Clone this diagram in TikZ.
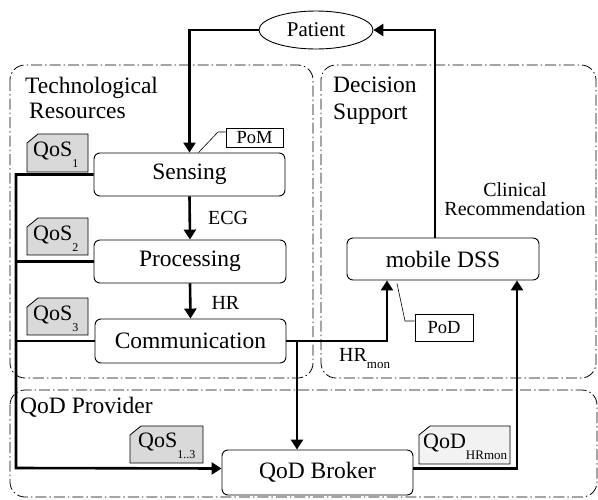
\documentclass[tikz,border=0pt]{standalone}
\usepackage{fontspec}
\setmainfont{Liberation Serif}
\usetikzlibrary{arrows.meta,shapes.geometric}
\newcommand\fsz[1]{\fontsize{#1}{#1}\selectfont}
\newcommand\qtag[5]{% left, top, right, bottom, fill
  \draw[tagline, fill=#5] (#1,#4) -- (#1,#2+9) -- (#1+11,#2) -- (#3,#2) -- (#3,#4) -- cycle;}
\begin{document}
\begin{tikzpicture}[x=1pt,y=-1pt,
  box/.style={draw, line width=0.9pt, rounded corners=6pt, inner sep=0pt, font=\fsz{23.5}},
  group/.style={draw, line width=0.8pt, rounded corners=15pt, dash pattern=on 11pt off 3pt on 1.5pt off 3pt},
  conn/.style={line width=2.6pt, -{Triangle[width=12pt,length=10pt]}},
  bus/.style={line width=2.6pt},
  note/.style={draw, line width=0.8pt, inner sep=0pt, font=\fsz{18.5}},
  tagline/.style={line width=0.8pt},
  title/.style={anchor=base west, inner sep=0pt, font=\fsz{23.5}, align=left},
  lbl/.style={anchor=base west, inner sep=0pt, font=\fsz{20}},
  tagtxt/.style={anchor=base west, inner sep=0pt, font=\fsz{22}}
]
\useasboundingbox (0,0) rectangle (598,499);

% groups
\draw[group] (10,65) rectangle (313,378);
\draw[group] (321,65) rectangle (596,378);
\draw[group] (10,390) rectangle (597,497);

\node[title] (ttech) at (25,93) {Technological};
\node[title] (tres) at (29,118) {Resources};
\node[title] (tdec) at (333,92) {Decision};
\node[title] (tsup) at (333,119) {Support};
\node[title] (tqod) at (20,413) {QoD Provider};

% main nodes
\node[draw, line width=0.9pt, ellipse, minimum width=114pt, minimum height=38pt, inner sep=0pt, font=\fsz{21}] (pat) at (316,30) {Patient};
\node[box, minimum width=191pt, minimum height=43pt] (sens) at (189.5,174.5) {\raisebox{-4pt}{Sensing}};
\node[box, minimum width=192pt, minimum height=43pt] (proc) at (190,261.5) {\raisebox{-3pt}{Processing}};
\node[box, minimum width=191pt, minimum height=44pt] (comm) at (190.5,341) {\raisebox{-4pt}{Communication}};
\node[box, minimum width=192pt, minimum height=42pt] (dss) at (443,259) {\raisebox{-4pt}{mobile DSS}};
\node[box, minimum width=191pt, minimum height=45pt] (broker) at (317.5,472.5) {QoD Broker};

% notes
\node[note, minimum width=57pt, minimum height=19pt] (pom) at (254.5,138) {PoM};
\draw[line width=0.6pt] ([xshift=9pt]sens.north) -- (218,132) -- ([yshift=6pt]pom.west);
\node[note, minimum width=58pt, minimum height=27pt] (pod) at (444,327.5) {PoD};
\draw[line width=0.6pt] ([xshift=-46pt,yshift=-3pt]dss.south) -- (405,321) -- ([yshift=6.5pt]pod.west);

% tags
\qtag{27}{134}{88}{172}{gray!30}
\node[tagtxt] (q1) at (33,156) {QoS\raisebox{-11pt}{\fsz{12}1}};
\qtag{27}{218}{88}{255}{gray!30}
\node[tagtxt] (q2) at (33,240) {QoS\raisebox{-11pt}{\fsz{12}2}};
\qtag{27}{298}{88}{335}{gray!30}
\node[tagtxt] (q3) at (33,320) {QoS\raisebox{-11pt}{\fsz{12}3}};
\qtag{130}{426}{203}{463}{gray!30}
\node[tagtxt] (q13) at (138,447) {QoS\raisebox{-11pt}{\fsz{12}1..3}};
\qtag{419}{426}{510}{464}{gray!10}
\node[tagtxt] (qd) at (423,448) {QoD\raisebox{-11pt}{\fsz{13}HRmon}};

% connectors
\draw[conn] (pat.west) -| (sens.north);
\draw[conn] ([xshift=-8pt]dss.north) |- (pat.east);
\draw[conn] (sens.south) -- (proc.north) node[lbl, pos=0.5, xshift=17pt, yshift=-6pt] (ecg) {ECG};
\draw[conn] (proc.south) -- (comm.north) node[lbl, pos=0.5, xshift=20pt, yshift=-8pt] (hr) {HR};

\coordinate (busbot) at (16,468);
\coordinate (split) at (297,341);
\draw[bus] (proc.west) -- (proc.west -| busbot);
\draw[bus] (comm.west) -- (comm.west -| busbot);
\draw[conn] (sens.west) -| (busbot) -- ([yshift=4pt]broker.west);
\draw[bus] (comm.east) -- (split);
\draw[conn] (split) -- (split |- broker.north);
\draw[conn] (split) -| ([xshift=-56pt]dss.south);
\draw[conn] ([yshift=4pt]broker.east) -| ([xshift=74pt]dss.south);

% labels
\node[font=\fsz{20}, align=center, inner sep=0pt] (clin) at (515,199) {Clinical\\[-1pt]Recommendation};
\node[lbl] (hrmon) at (339,361) {HR\raisebox{-7pt}{\fsz{13}mon}};
\end{tikzpicture}
\end{document}
